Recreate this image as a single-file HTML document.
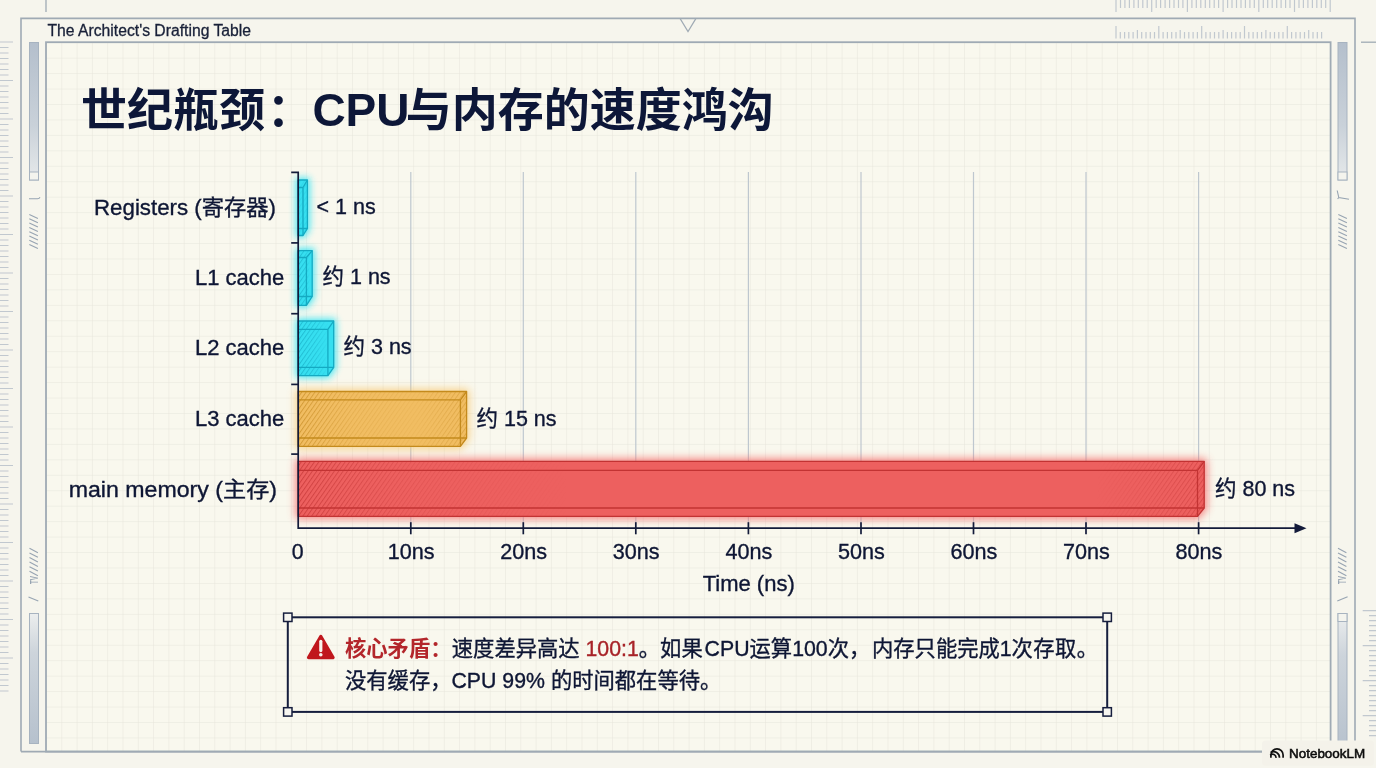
<!DOCTYPE html>
<html lang="zh"><head><meta charset="utf-8"><title>世纪瓶颈：CPU与内存的速度鸿沟</title>
<style>
html,body{margin:0;padding:0;background:#f6f5ed;}
body{width:1376px;height:768px;overflow:hidden;}
svg{display:block}
text{font-family:"Liberation Sans","Noto Sans CJK SC",sans-serif;fill:#0e1634;}
.lab text,.val text,.ax text,.call text{stroke:#0e1634;stroke-width:0.35px}
.lab{font-size:22px}
.val{font-size:21.5px}
.ax{font-size:21.3px}
.call{font-size:21.3px}
</style></head><body>
<svg width="1376" height="768" viewBox="0 0 1376 768">
<defs>
<pattern id="grid" x="46" y="42.2" width="15.3" height="15.45" patternUnits="userSpaceOnUse">
<path d="M0 0H15.3M0 0V15.45" fill="none" stroke="#e6e5db" stroke-width="1"/>
</pattern>
<linearGradient id="sbA" x1="0" y1="0" x2="0" y2="1"><stop offset="0" stop-color="#b4bfcc"/><stop offset="0.6" stop-color="#c9d1d9"/><stop offset="1" stop-color="#e6e9ea"/></linearGradient>
<linearGradient id="sbB" x1="0" y1="0" x2="0" y2="1"><stop offset="0" stop-color="#eceeee"/><stop offset="0.3" stop-color="#cdd4db"/><stop offset="1" stop-color="#b6c1cd"/></linearGradient>
<filter id="glow" x="-20%" y="-50%" width="140%" height="200%"><feGaussianBlur stdDeviation="4"/></filter>
<filter id="glowS" x="-200%" y="-40%" width="500%" height="180%"><feGaussianBlur stdDeviation="3.5"/></filter>
<pattern id="hC" width="4" height="3.6" patternUnits="userSpaceOnUse" patternTransform="rotate(-55)"><line x1="0" y1="0.5" x2="4" y2="0.5" stroke="#12a4bd" stroke-width="1"/></pattern>
<pattern id="hO" width="4" height="3.6" patternUnits="userSpaceOnUse" patternTransform="rotate(-55)"><line x1="0" y1="0.5" x2="4" y2="0.5" stroke="#b97d12" stroke-width="1"/></pattern>
<pattern id="hR" width="4" height="3.6" patternUnits="userSpaceOnUse" patternTransform="rotate(-55)"><line x1="0" y1="0.5" x2="4" y2="0.5" stroke="#b82a2a" stroke-width="1"/></pattern>
<linearGradient id="fadeO" x1="0" y1="0" x2="1" y2="0"><stop offset="0" stop-color="#fff" stop-opacity="0.75"/><stop offset="0.35" stop-color="#fff" stop-opacity="0.25"/><stop offset="0.7" stop-color="#fff" stop-opacity="0.1"/><stop offset="1" stop-color="#fff" stop-opacity="0.45"/></linearGradient>
<linearGradient id="fadeR" x1="0" y1="0" x2="1" y2="0"><stop offset="0" stop-color="#fff" stop-opacity="0.7"/><stop offset="0.12" stop-color="#fff" stop-opacity="0.25"/><stop offset="0.3" stop-color="#fff" stop-opacity="0"/><stop offset="0.88" stop-color="#fff" stop-opacity="0"/><stop offset="1" stop-color="#fff" stop-opacity="0.5"/></linearGradient>
<linearGradient id="fadeC" x1="0" y1="0" x2="1" y2="0"><stop offset="0" stop-color="#fff" stop-opacity="0.75"/><stop offset="0.5" stop-color="#fff" stop-opacity="0.5"/><stop offset="0.85" stop-color="#fff" stop-opacity="0"/></linearGradient>
<mask id="mC" maskContentUnits="objectBoundingBox"><rect width="1" height="1" fill="url(#fadeC)"/></mask>
<mask id="mO" maskUnits="userSpaceOnUse" x="290" y="380" width="200" height="80"><rect x="290" y="380" width="180" height="80" fill="url(#fadeO)"/></mask>
<mask id="mR" maskUnits="userSpaceOnUse" x="290" y="450" width="930" height="80"><rect x="298" y="450" width="907" height="80" fill="url(#fadeR)"/></mask>
</defs>
<rect width="1376" height="768" fill="#f6f5ed"/>

<rect x="46" y="42.2" width="1284.6" height="709.3" fill="#f9f8ee"/>
<rect x="46" y="42.2" width="1284.6" height="709.3" fill="url(#grid)"/>
<g fill="none" stroke="#9faab4" stroke-width="1.6">
<path d="M21 751.6V18.4H1355V751.6"/>
<path d="M680 18.4L688 31.6L696 18.4" stroke-width="1.2"/>
<path d="M21 751.6H1355"/>
<rect x="46" y="42.2" width="1284.6" height="709.4" stroke-width="1.8"/>
<path d="M46 0V12" stroke-width="1.3"/>
<path d="M1361 42.2H1376" stroke-width="1.3"/>
</g>
<text x="47.5" y="35.8" font-size="15.8px" textLength="203.5" lengthAdjust="spacingAndGlyphs" style="fill:#182038;stroke:#182038;stroke-width:0.3px">The Architect's Drafting Table</text>
<path d="M1116.0 0V12.0M1120.5 0V8.0M1124.9 0V8.0M1129.4 0V8.0M1133.9 0V8.0M1138.3 0V8.0M1142.8 0V8.0M1147.2 0V8.0M1151.7 0V12.0M1156.2 0V8.0M1160.6 0V8.0M1165.1 0V8.0M1169.6 0V8.0M1174.0 0V8.0M1178.5 0V8.0M1182.9 0V8.0M1187.4 0V12.0M1191.9 0V8.0M1196.3 0V8.0M1200.8 0V8.0M1205.3 0V8.0M1209.7 0V8.0M1214.2 0V8.0M1218.6 0V8.0M1223.1 0V12.0M1227.6 0V8.0M1232.0 0V8.0M1236.5 0V8.0M1241.0 0V8.0M1245.4 0V8.0M1249.9 0V8.0M1254.3 0V8.0M1258.8 0V12.0M1263.3 0V8.0M1267.7 0V8.0M1272.2 0V8.0M1276.7 0V8.0M1281.1 0V8.0M1285.6 0V8.0M1290.0 0V8.0M1294.5 0V12.0M1299.0 0V8.0M1303.4 0V8.0M1307.9 0V8.0M1312.4 0V8.0M1316.8 0V8.0M1321.3 0V8.0M1325.7 0V8.0M1330.2 0V12.0" stroke="#c1c8cf" stroke-width="1.2" fill="none"/>
<path d="M1116.0 38.6V26.1M1120.3 38.6V32.1M1124.6 38.6V32.1M1128.8 38.6V32.1M1133.1 38.6V32.1M1137.4 38.6V30.1M1141.7 38.6V32.1M1146.0 38.6V32.1M1150.3 38.6V32.1M1154.5 38.6V32.1M1158.8 38.6V26.1M1163.1 38.6V32.1M1167.4 38.6V32.1M1171.7 38.6V32.1M1176.0 38.6V32.1M1180.2 38.6V30.1M1184.5 38.6V32.1M1188.8 38.6V32.1M1193.1 38.6V32.1M1197.4 38.6V32.1M1201.7 38.6V26.1M1205.9 38.6V32.1M1210.2 38.6V32.1M1214.5 38.6V32.1M1218.8 38.6V32.1M1223.1 38.6V30.1M1227.4 38.6V32.1M1231.6 38.6V32.1M1235.9 38.6V32.1M1240.2 38.6V32.1M1244.5 38.6V26.1M1248.8 38.6V32.1M1253.1 38.6V32.1M1257.3 38.6V32.1M1261.6 38.6V32.1M1265.9 38.6V30.1M1270.2 38.6V32.1M1274.5 38.6V32.1M1278.8 38.6V32.1M1283.0 38.6V32.1M1287.3 38.6V26.1M1291.6 38.6V32.1M1295.9 38.6V32.1M1300.2 38.6V32.1M1304.5 38.6V32.1M1308.7 38.6V30.1M1313.0 38.6V32.1M1317.3 38.6V32.1M1321.6 38.6V32.1" stroke="#c1c8cf" stroke-width="1.2" fill="none"/>
<path d="M0 42.0H13.0M0 47.5H8.5M0 53.0H8.5M0 58.5H8.5M0 64.0H8.5M0 69.5H8.5M0 75.0H8.5M0 80.5H13.0M0 86.0H8.5M0 91.5H8.5M0 97.0H8.5M0 102.5H8.5M0 108.0H8.5M0 113.5H8.5M0 119.0H13.0M0 124.5H8.5M0 130.0H8.5M0 135.5H8.5M0 141.0H8.5M0 146.5H8.5M0 152.0H8.5M0 157.5H13.0M0 163.0H8.5M0 168.5H8.5M0 174.0H8.5M0 179.5H8.5M0 185.0H8.5M0 190.5H8.5M0 196.0H13.0M0 201.5H8.5M0 207.0H8.5M0 212.5H8.5M0 218.0H8.5M0 223.5H8.5M0 229.0H8.5M0 234.5H13.0M0 240.0H8.5M0 245.5H8.5M0 251.0H8.5M0 256.5H8.5M0 262.0H8.5M0 267.5H8.5M0 273.0H13.0M0 278.5H8.5M0 284.0H8.5M0 289.5H8.5M0 295.0H8.5M0 300.5H8.5M0 306.0H8.5M0 311.5H13.0M0 317.0H8.5M0 322.5H8.5M0 328.0H8.5M0 333.5H8.5M0 339.0H8.5M0 344.5H8.5M0 350.0H13.0M0 355.5H8.5M0 361.0H8.5M0 366.5H8.5M0 372.0H8.5M0 377.5H8.5M0 383.0H8.5M0 388.5H13.0M0 394.0H8.5M0 399.5H8.5M0 405.0H8.5M0 410.5H8.5M0 416.0H8.5M0 421.5H8.5M0 427.0H13.0M0 432.5H8.5M0 438.0H8.5M0 443.5H8.5M0 449.0H8.5M0 454.5H8.5M0 460.0H8.5M0 465.5H13.0M0 471.0H8.5M0 476.5H8.5M0 482.0H8.5M0 487.5H8.5M0 493.0H8.5M0 498.5H8.5M0 504.0H13.0M0 509.5H8.5M0 515.0H8.5M0 520.5H8.5M0 526.0H8.5M0 531.5H8.5M0 537.0H8.5M0 542.5H13.0M0 548.0H8.5M0 553.5H8.5M0 559.0H8.5M0 564.5H8.5M0 570.0H8.5M0 575.5H8.5M0 581.0H13.0M0 586.5H8.5M0 592.0H8.5M0 597.5H8.5M0 603.0H8.5M0 608.5H8.5M0 614.0H8.5M0 619.5H13.0M0 625.0H8.5M0 630.5H8.5M0 636.0H8.5M0 641.5H8.5M0 647.0H8.5M0 652.5H8.5M0 658.0H13.0M0 663.5H8.5M0 669.0H8.5M0 674.5H8.5M0 680.0H8.5M0 685.5H8.5M0 691.0H8.5" stroke="#c1c8cf" stroke-width="1.2" fill="none"/>
<path d="M1376 610.7H1362.7M1376 615.7H1369.0M1376 620.7H1369.0M1376 625.7H1369.0M1376 630.7H1369.0M1376 635.7H1369.0M1376 640.7H1369.0M1376 645.7H1362.7M1376 650.7H1369.0M1376 655.7H1369.0M1376 660.7H1369.0M1376 665.7H1369.0M1376 670.7H1369.0M1376 675.7H1369.0M1376 680.7H1362.7M1376 685.7H1369.0M1376 690.7H1369.0M1376 695.7H1369.0M1376 700.7H1369.0M1376 705.7H1369.0M1376 710.7H1369.0M1376 715.7H1362.7M1376 720.7H1369.0M1376 725.7H1369.0M1376 730.7H1369.0M1376 735.7H1369.0" stroke="#c1c8cf" stroke-width="1.2" fill="none"/>
<g stroke="#a7b3c0" stroke-width="1">
<rect x="29.5" y="42.5" width="9" height="137.5" fill="url(#sbA)"/><rect x="29.5" y="172" width="9" height="8" fill="#f4f4ee"/>
<rect x="1338" y="42.5" width="9" height="137.5" fill="url(#sbA)"/><rect x="1338" y="172" width="9" height="8" fill="#f4f4ee"/>
<rect x="29.5" y="613.5" width="9" height="130" fill="url(#sbB)"/>
<rect x="1338" y="613.5" width="9" height="138" fill="url(#sbB)"/><rect x="1338" y="613.5" width="9" height="8" fill="#f4f4ee"/>
</g>
<g stroke="#97a4b2" stroke-width="1.1" fill="none">
<path d="M29.3 214.5l8.6 4M29.3 218.8l8.6 4M29.3 223.1l8.6 4M29.3 227.4l8.6 4M29.3 231.7l8.6 4M29.3 236.0l8.6 4M29.3 240.3l8.6 4M29.3 244.6l8.6 4"/>
<path d="M29 198.8H37.5Q39.3 198.6 40 197.2"/>
<path d="M1338.3 214.5l8.6 4M1338.3 218.8l8.6 4M1338.3 223.1l8.6 4M1338.3 227.4l8.6 4M1338.3 231.7l8.6 4M1338.3 236.0l8.6 4M1338.3 240.3l8.6 4M1338.3 244.6l8.6 4"/>
<path d="M1337.2 190.5L1338.8 197.5L1349 199.3M1338.8 197.5L1337.6 199"/>
<path d="M29.5 548.3l8.4 4.4M29.5 552.9l8.4 4.4M29.5 557.5l8.4 4.4M29.5 562.1l8.4 4.4M29.5 566.7l8.4 4.4M29.5 571.3l8.4 4.4"/>
<path d="M28.5 597L38.3 601"/>
<path d="M1338 548.3l8.4 4.4M1338 552.9l8.4 4.4M1338 557.5l8.4 4.4M1338 562.1l8.4 4.4M1338 566.7l8.4 4.4M1338 571.3l8.4 4.4"/>
<path d="M1337.3 601L1347.6 596.8"/>
</g>
<text transform="translate(37.6,584) rotate(-90)" font-size="10.5px" font-weight="700" textLength="8" lengthAdjust="spacingAndGlyphs" style="fill:#97a4b2">TV</text>
<text transform="translate(1346.4,584) rotate(-90)" font-size="10.5px" font-weight="700" textLength="8" lengthAdjust="spacingAndGlyphs" style="fill:#97a4b2">TV</text>
<text y="126" font-size="46px" font-weight="700" style="fill:#0d1738"><tspan x="81">世纪瓶颈</tspan><tspan x="267">：</tspan><tspan x="312.4">CPU</tspan><tspan x="405.8">与内存的速度鸿沟</tspan></text>
<g stroke="#bec7cf" stroke-width="1.2">
<path d="M410.8 172V528"/>
<path d="M523.3 172V528"/>
<path d="M635.8 172V528"/>
<path d="M748.4 172V528"/>
<path d="M861.0 172V528"/>
<path d="M973.5 172V528"/>
<path d="M1086.0 172V528"/>
<path d="M1198.6 172V528"/>
</g>
<path d="M298.2 180H307.4V228.5L303 235.5H298.2Z" fill="#22e3f5" stroke="#22e3f5" stroke-width="5" stroke-linejoin="round" opacity="0.8" filter="url(#glowS)"/><path d="M298.2 180H307.4V228.5L303 235.5H298.2Z" fill="#36dff0"/><path d="M298.2 180H307.4V228.5L303 235.5H298.2Z" fill="url(#hC)" opacity="0.15"/><g fill="none" stroke="#14aac2" stroke-width="1.3" stroke-linejoin="round"><path d="M298.2 180H307.4V228.5L303 235.5H298.2Z"/><path d="M298.2 187.5H303V235.5M303 187.5L307.4 180M298.2 228.5H307.4" /></g>
<path d="M298.2 250.6H312.2V296.5L306.4 305.3H298.2Z" fill="#22e3f5" stroke="#22e3f5" stroke-width="5" stroke-linejoin="round" opacity="0.8" filter="url(#glowS)"/><path d="M298.2 250.6H312.2V296.5L306.4 305.3H298.2Z" fill="#36dff0"/><path d="M298.2 250.6H312.2V296.5L306.4 305.3H298.2Z" fill="url(#hC)" opacity="0.8" mask="url(#mC)"/><g fill="none" stroke="#14aac2" stroke-width="1.3" stroke-linejoin="round"><path d="M298.2 250.6H312.2V296.5L306.4 305.3H298.2Z"/><path d="M298.2 257.5H306.4V305.3M306.4 257.5L312.2 250.6M298.2 296.5H312.2" /></g>
<path d="M298.2 321H333.7V367.3L327.9 375.6H298.2Z" fill="#22e3f5" stroke="#22e3f5" stroke-width="5" stroke-linejoin="round" opacity="0.8" filter="url(#glowS)"/><path d="M298.2 321H333.7V367.3L327.9 375.6H298.2Z" fill="#36dff0"/><path d="M298.2 321H333.7V367.3L327.9 375.6H298.2Z" fill="url(#hC)" opacity="0.8" mask="url(#mC)"/><g fill="none" stroke="#14aac2" stroke-width="1.3" stroke-linejoin="round"><path d="M298.2 321H333.7V367.3L327.9 375.6H298.2Z"/><path d="M298.2 329.4H327.9V375.6M327.9 329.4L333.7 321M298.2 367.3H333.7" /></g>
<path d="M298.2 391.5H466.6V438L460.4 446.4H298.2Z" fill="#f7c46a" stroke="#f7c46a" stroke-width="5" stroke-linejoin="round" opacity="0.75" filter="url(#glow)"/><path d="M298.2 391.5H466.6V438L460.4 446.4H298.2Z" fill="#f1bd62"/><path d="M298.2 391.5H466.6V438L460.4 446.4H298.2Z" fill="url(#hO)" opacity="0.8" mask="url(#mO)"/><g fill="none" stroke="#c48a1c" stroke-width="1.3" stroke-linejoin="round"><path d="M298.2 391.5H466.6V438L460.4 446.4H298.2Z"/><path d="M298.2 399.9H460.4V446.4M460.4 399.9L466.6 391.5M298.2 438H466.6" /></g>
<path d="M298.2 461.3H1204.2V508L1197.5 516.3H298.2Z" fill="#f46a6a" stroke="#f46a6a" stroke-width="5" stroke-linejoin="round" opacity="0.85" filter="url(#glow)"/><path d="M298.2 461.3H1204.2V508L1197.5 516.3H298.2Z" fill="#ed605f"/><path d="M298.2 461.3H1204.2V508L1197.5 516.3H298.2Z" fill="url(#hR)" opacity="0.8" mask="url(#mR)"/><g fill="none" stroke="#c23333" stroke-width="1.3" stroke-linejoin="round"><path d="M298.2 461.3H1204.2V508L1197.5 516.3H298.2Z"/><path d="M298.2 470.4H1197.5V516.3M1197.5 470.4L1204.2 461.3M298.2 508H1204.2" /></g>
<g stroke="#131b3a" stroke-width="1.7" fill="none">
<path d="M291.2 172.3H298.2V528.2H1296"/>
<path d="M291.2 242.9H298.2"/>
<path d="M291.2 313.7H298.2"/>
<path d="M291.2 384.4H298.2"/>
<path d="M291.2 454.1H298.2"/>
<path d="M410.8 522.2V534.3"/>
<path d="M523.3 522.2V534.3"/>
<path d="M635.8 522.2V534.3"/>
<path d="M748.4 522.2V534.3"/>
<path d="M861.0 522.2V534.3"/>
<path d="M973.5 522.2V534.3"/>
<path d="M1086.0 522.2V534.3"/>
<path d="M1198.6 522.2V534.3"/>
</g>
<path d="M1294.5 523.2L1306.5 528.2L1294.5 533.2Z" fill="#131b3a"/>
<g class="lab" text-anchor="end" transform="translate(0,-0.5)">
<text x="276" y="215" textLength="182" lengthAdjust="spacingAndGlyphs">Registers (寄存器)</text>
<text x="284.2" y="285.2" textLength="89.3" lengthAdjust="spacingAndGlyphs">L1 cache</text>
<text x="284.2" y="355.2" textLength="89.3" lengthAdjust="spacingAndGlyphs">L2 cache</text>
<text x="284.2" y="426" textLength="89.3" lengthAdjust="spacingAndGlyphs">L3 cache</text>
<text x="277" y="497" textLength="208.3" lengthAdjust="spacingAndGlyphs">main memory (主存)</text>
</g>
<g class="val" transform="translate(0,-0.8)">
<text x="316.5" y="215">&lt; 1 ns</text>
<text x="322.5" y="284.8">约 1 ns</text>
<text x="343.5" y="355.1">约 3 ns</text>
<text x="476.5" y="426.5">约 15 ns</text>
<text x="1215" y="496.7">约 80 ns</text>
</g>
<g class="ax" text-anchor="middle">
<text x="297.6" y="558.8">0</text>
<text x="411.1" y="558.8" textLength="46.8" lengthAdjust="spacingAndGlyphs">10ns</text>
<text x="523.7" y="558.8" textLength="46.8" lengthAdjust="spacingAndGlyphs">20ns</text>
<text x="636.2" y="558.8" textLength="46.8" lengthAdjust="spacingAndGlyphs">30ns</text>
<text x="748.8" y="558.8" textLength="46.8" lengthAdjust="spacingAndGlyphs">40ns</text>
<text x="861.4" y="558.8" textLength="46.8" lengthAdjust="spacingAndGlyphs">50ns</text>
<text x="973.9" y="558.8" textLength="46.8" lengthAdjust="spacingAndGlyphs">60ns</text>
<text x="1086.5" y="558.8" textLength="46.8" lengthAdjust="spacingAndGlyphs">70ns</text>
<text x="1199.0" y="558.8" textLength="46.8" lengthAdjust="spacingAndGlyphs">80ns</text>
<text x="748.7" y="591" font-size="22px">Time (ns)</text>
</g>
<rect x="287.8" y="617.3" width="819.4" height="94.6" fill="none" stroke="#161e3e" stroke-width="2"/>
<rect x="283.6" y="613.1" width="8.4" height="8.4" fill="#f7f6f0" stroke="#161e3e" stroke-width="1.5"/>
<rect x="1103.0" y="613.1" width="8.4" height="8.4" fill="#f7f6f0" stroke="#161e3e" stroke-width="1.5"/>
<rect x="283.6" y="707.7" width="8.4" height="8.4" fill="#f7f6f0" stroke="#161e3e" stroke-width="1.5"/>
<rect x="1103.0" y="707.7" width="8.4" height="8.4" fill="#f7f6f0" stroke="#161e3e" stroke-width="1.5"/>
<path d="M320.8 636.5L333 657.5H308.6Z" fill="#c0171d" stroke="#c0171d" stroke-width="3.4" stroke-linejoin="round"/>
<path d="M320.8 641.3V650.6" stroke="#f7f2ec" stroke-width="3.2" stroke-linecap="round"/><circle cx="320.8" cy="654.7" r="1.8" fill="#f7f2ec"/>
<g class="call">
<text x="345" y="656.2" xml:space="preserve"><tspan font-weight="700" style="fill:#b3262b;stroke:none">核心矛盾：</tspan><tspan x="451.8">速度差异高达</tspan><tspan style="fill:#a82328;stroke:#a82328"> 100:1</tspan>。如果<tspan x="704.6">CPU</tspan>运算100次，<tspan x="872">内存只能完成</tspan>1<tspan x="1011.6" letter-spacing="0.45">次存取。</tspan></text>
<text x="345" y="688.2">没有缓存，CPU 99% 的时间都在等待。</text>
</g>
<rect x="1262" y="740.5" width="111.8" height="25.3" rx="3.5" fill="#f4f2ea"/>
<g fill="none" stroke="#111" stroke-width="1.7" stroke-linecap="butt">
<path d="M1270.9 757.8V755a6.1 6.1 0 0 1 12.2 0V757.8"/>
<path d="M1270.6 752.4a6 6 0 0 1 8.9 5.4"/>
<path d="M1270.3 755.3a3.2 3.2 0 0 1 5.6 2.5"/>
</g>
<text x="1289" y="757.6" font-size="13.7px" textLength="76.2" lengthAdjust="spacingAndGlyphs" style="fill:#0c0c0c" stroke="#0c0c0c" stroke-width="0.55">NotebookLM</text>
</svg></body></html>
